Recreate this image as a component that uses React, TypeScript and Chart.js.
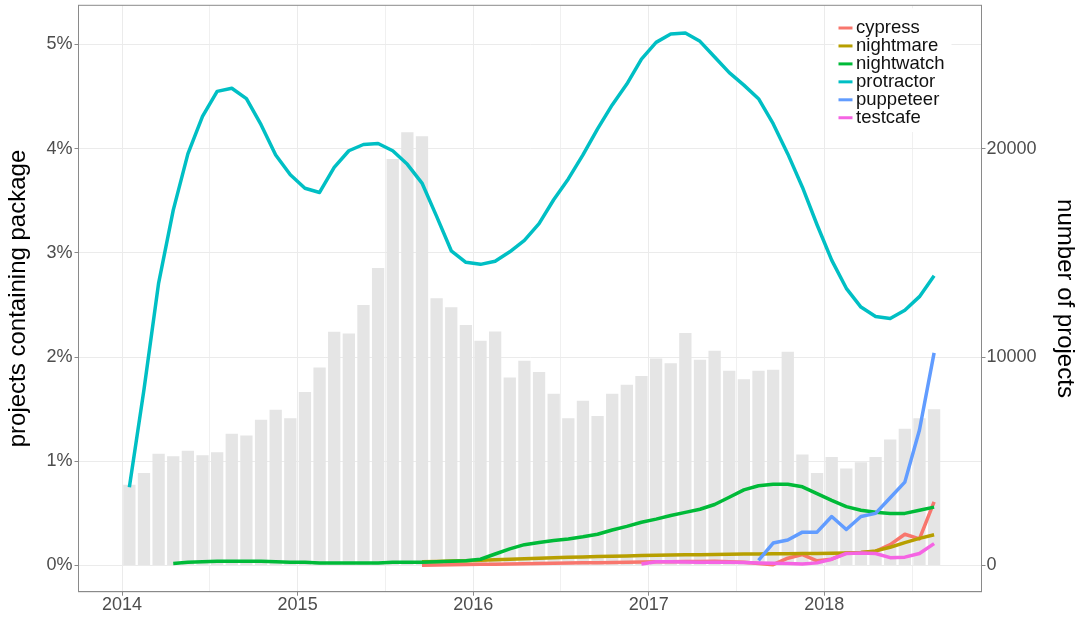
import React, { useEffect, useRef } from 'react';
import { Chart, registerables } from 'chart.js';

Chart.register(...registerables);

// ---- categories (one bar per month) ----
const months = [
  '2014-01', '2014-02', '2014-03', '2014-04', '2014-05', '2014-06', '2014-07', '2014-08', '2014-09', '2014-10', '2014-11', '2014-12',
  '2015-01', '2015-02', '2015-03', '2015-04', '2015-05', '2015-06', '2015-07', '2015-08', '2015-09', '2015-10', '2015-11', '2015-12',
  '2016-01', '2016-02', '2016-03', '2016-04', '2016-05', '2016-06', '2016-07', '2016-08', '2016-09', '2016-10', '2016-11', '2016-12',
  '2017-01', '2017-02', '2017-03', '2017-04', '2017-05', '2017-06', '2017-07', '2017-08', '2017-09', '2017-10', '2017-11', '2017-12',
  '2018-01', '2018-02', '2018-03', '2018-04', '2018-05', '2018-06', '2018-07', '2018-08',
];

// ---- number of projects per month (right axis) ----
const projectCounts = [
  3870, 4440, 5360, 5240, 5510, 5290, 5430, 6320, 6240, 6990, 7470, 7070,
  8320, 9500, 11210, 11130, 12500, 14270, 19510, 20790, 20600, 12820, 12390, 11540,
  10780, 11230, 9020, 9820, 9280, 8240, 7060, 7900, 7170, 8240, 8670, 9090,
  9930, 9710, 11150, 9870, 10300, 9340, 8940, 9340, 9390, 10250, 5320, 4440,
  5210, 4650, 4950, 5210, 6040, 6560, 7060, 7500,
];

// ---- share of projects containing each package (left axis, %) ----
const cypressStart = '2015-09';
const cypress = [
  0.003, 0.005, 0.007, 0.009, 0.011, 0.013, 0.015, 0.017, 0.02, 0.022, 0.024, 0.026,
  0.027, 0.029, 0.031, 0.033, 0.035, 0.037, 0.038, 0.039, 0.04, 0.037, 0.03, 0.018,
  0.008, 0.07, 0.105, 0.045, 0.06, 0.12, 0.125, 0.135, 0.2, 0.3, 0.255, 0.61,
];

const nightmareStart = '2015-09';
const nightmare = [
  0.035, 0.038, 0.042, 0.046, 0.05, 0.055, 0.06, 0.065, 0.07, 0.074, 0.078, 0.082,
  0.086, 0.089, 0.092, 0.095, 0.098, 0.1, 0.102, 0.104, 0.106, 0.108, 0.11, 0.111,
  0.112, 0.113, 0.114, 0.115, 0.117, 0.12, 0.125, 0.14, 0.175, 0.22, 0.26, 0.295,
];

const nightwatchStart = '2014-04';
const nightwatch = [
  0.02, 0.03, 0.035, 0.04, 0.04, 0.04, 0.04, 0.035, 0.03, 0.03, 0.025, 0.025,
  0.025, 0.025, 0.025, 0.03, 0.03, 0.03, 0.035, 0.04, 0.045, 0.06, 0.11, 0.16,
  0.2, 0.22, 0.24, 0.255, 0.275, 0.3, 0.34, 0.375, 0.415, 0.445, 0.48, 0.51,
  0.54, 0.585, 0.655, 0.725, 0.765, 0.78, 0.78, 0.755, 0.69, 0.625, 0.565, 0.53,
  0.51, 0.5, 0.5, 0.53, 0.56,
];

const protractorStart = '2014-01';
const protractor = [
  0.75, 1.69, 2.71, 3.41, 3.95, 4.31, 4.55, 4.58, 4.48, 4.23, 3.94, 3.75,
  3.62, 3.58, 3.82, 3.98, 4.04, 4.05, 3.98, 3.85, 3.67, 3.35, 3.02, 2.91,
  2.89, 2.92, 3.01, 3.12, 3.28, 3.51, 3.71, 3.94, 4.19, 4.42, 4.62, 4.86,
  5.02, 5.1, 5.11, 5.03, 4.88, 4.73, 4.61, 4.48, 4.24, 3.95, 3.63, 3.27,
  2.93, 2.66, 2.48, 2.39, 2.37, 2.45, 2.58, 2.78,
];

const puppeteerStart = '2017-08';
const puppeteer = [0.05, 0.215, 0.245, 0.32, 0.32, 0.47, 0.345, 0.47, 0.5, 0.65, 0.8, 1.3, 2.04];

const testcafeStart = '2016-12';
const testcafe = [
  0.015, 0.035, 0.035, 0.033, 0.032, 0.03, 0.03, 0.028, 0.025, 0.022, 0.018, 0.015,
  0.025, 0.06, 0.115, 0.12, 0.115, 0.075, 0.08, 0.115, 0.21,
];

// ---- axis tick labels ----
const yearTicks = [2014, 2015, 2016, 2017, 2018];
const halfYearGrid = [2014.5, 2015.5, 2016.5, 2017.5, 2018.5];
const percentTicks = [0, 1, 2, 3, 4, 5];
const projectTicks = [0, 10000, 20000];

const FONT = '"Liberation Sans", Arial, Helvetica, sans-serif';
const AXIS_GREY = '#8A8A8A';
const GRID = '#EBEBEB';

const toX = (m: string) => {
  const [y, mo] = m.split('-').map(Number);
  return y + (mo - 0.5) / 12;
};

const seriesPoints = (start: string, values: number[]) => {
  const s = months.indexOf(start);
  return values.map((v, k) => ({ x: toX(months[s + k]), y: v }));
};

const packages = [
  { label: 'cypress', start: cypressStart, values: cypress, color: '#F8766D', order: 6 },
  { label: 'nightmare', start: nightmareStart, values: nightmare, color: '#B79F00', order: 5 },
  { label: 'nightwatch', start: nightwatchStart, values: nightwatch, color: '#00BA38', order: 4 },
  { label: 'protractor', start: protractorStart, values: protractor, color: '#00BFC4', order: 3 },
  { label: 'puppeteer', start: puppeteerStart, values: puppeteer, color: '#619CFF', order: 2 },
  { label: 'testcafe', start: testcafeStart, values: testcafe, color: '#F564E3', order: 1 },
];

const zeroPad = (s: any) => {
  s.paddingTop = 0;
  s.paddingBottom = 0;
  s.paddingLeft = 0;
  s.paddingRight = 0;
};

const panelBorder = {
  id: 'panelBorder',
  afterDatasetsDraw(chart: any) {
    const { ctx, chartArea: a } = chart;
    ctx.save();
    ctx.strokeStyle = AXIS_GREY;
    ctx.lineWidth = 1;
    ctx.strokeRect(a.left, a.top, a.right - a.left, a.bottom - a.top);
    ctx.restore();
  },
};

const insideLegend = {
  id: 'insideLegend',
  afterDraw(chart: any) {
    const { ctx, chartArea: a } = chart;
    const items = chart.data.datasets.filter((d: any) => d.type === 'line');
    const x0 = a.right - 147;
    const rowH = 17.95;
    const firstY = a.top + 22.7;
    ctx.save();
    ctx.fillStyle = '#FFFFFF';
    ctx.fillRect(x0, a.top + 3, 117, rowH * items.length + 16);
    ctx.font = `18.5px ${FONT}`;
    ctx.textBaseline = 'middle';
    ctx.textAlign = 'left';
    items.forEach((d: any, k: number) => {
      const y = firstY + k * rowH;
      ctx.strokeStyle = d.borderColor;
      ctx.lineWidth = 3;
      ctx.beginPath();
      ctx.moveTo(x0 + 4, y);
      ctx.lineTo(x0 + 18, y);
      ctx.stroke();
      ctx.fillStyle = '#111111';
      ctx.fillText(d.label, x0 + 21.5, y);
    });
    ctx.restore();
  },
};

export default function App() {
  const ref = useRef<HTMLCanvasElement>(null);

  useEffect(() => {
    if (!ref.current) return;
    Chart.defaults.font.family = FONT;

    const datasets: any[] = [
      {
        type: 'bar',
        label: 'number of projects',
        data: months.map((m, i) => ({ x: toX(m), y: projectCounts[i] })),
        backgroundColor: '#E5E5E5',
        borderWidth: 0,
        barPercentage: 0.84,
        categoryPercentage: 1,
        xAxisID: 'x',
        yAxisID: 'y2',
        order: 10,
      },
      ...packages.map((p) => ({
        type: 'line',
        label: p.label,
        data: seriesPoints(p.start, p.values),
        borderColor: p.color,
        backgroundColor: p.color,
        borderWidth: 3.5,
        pointRadius: 0,
        tension: 0,
        borderJoinStyle: 'round',
        fill: false,
        xAxisID: 'x',
        yAxisID: 'y',
        order: p.order,
      })),
    ];

    const tickFont = { family: FONT, size: 18 };
    const titleFont = { family: FONT, size: 24 };

    const chart = new Chart(ref.current, {
      type: 'bar',
      data: { datasets },
      plugins: [panelBorder, insideLegend],
      options: {
        responsive: false,
        animation: false,
        events: [],
        layout: { padding: { top: 5.3, left: 0, right: 0, bottom: 0 } },
        plugins: { legend: { display: false }, tooltip: { enabled: false } },
        scales: {
          x: {
            type: 'linear',
            position: 'bottom',
            min: 2013.752,
            max: 2018.895,
            offset: false,
            afterBuildTicks: (s: any) => {
              s.ticks = [...yearTicks, ...halfYearGrid].sort((a, b) => a - b).map((v) => ({ value: v }));
            },
            afterFit: (s: any) => {
              s.height = 25.3;
              zeroPad(s);
            },
            ticks: {
              autoSkip: false,
              maxRotation: 0,
              padding: -1,
              font: tickFont,
              color: '#4D4D4D',
              callback: (v: any) => (yearTicks.includes(Number(v)) ? String(v) : ''),
            },
            grid: {
              offset: false,
              color: (c: any) => (yearTicks.includes(c.tick?.value) ? GRID : '#F0F0F0'),
              lineWidth: 1,
              tickLength: 4,
              tickColor: (c: any) => (yearTicks.includes(c.tick?.value) ? AXIS_GREY : 'rgba(0,0,0,0)'),
            },
            border: { display: true, color: AXIS_GREY, width: 1 },
          },
          y: {
            type: 'linear',
            position: 'left',
            min: -0.2516,
            max: 5.376,
            afterBuildTicks: (s: any) => {
              s.ticks = percentTicks.map((v) => ({ value: v }));
            },
            afterFit: (s: any) => {
              s.width = 78.5;
              zeroPad(s);
            },
            ticks: {
              padding: 2,
              font: tickFont,
              color: '#4D4D4D',
              callback: (v: any) => `${v}%`,
            },
            grid: { color: GRID, lineWidth: 1, tickLength: 4, tickColor: AXIS_GREY },
            border: { display: true, color: AXIS_GREY, width: 1 },
            title: {
              display: true,
              text: 'projects containing package',
              font: titleFont,
              color: '#000000',
              padding: { top: 4, bottom: 0 },
            },
          },
          y2: {
            type: 'linear',
            position: 'right',
            min: -1258,
            max: 26880,
            afterBuildTicks: (s: any) => {
              s.ticks = projectTicks.map((v) => ({ value: v }));
            },
            afterFit: (s: any) => {
              s.width = 98.5;
              zeroPad(s);
            },
            ticks: {
              padding: 1,
              font: tickFont,
              color: '#4D4D4D',
              callback: (v: any) => String(v),
            },
            grid: { drawOnChartArea: false, tickLength: 4, tickColor: AXIS_GREY },
            border: { display: true, color: AXIS_GREY, width: 1 },
            title: {
              display: true,
              text: 'number of projects',
              font: titleFont,
              color: '#000000',
              padding: { top: 1, bottom: 0 },
            },
          },
        },
      } as any,
    });

    return () => chart.destroy();
  }, []);

  return (
    <div style={{ position: 'fixed', left: 0, top: 0, width: 1080, height: 617, background: '#FFFFFF' }}>
      <canvas ref={ref} width={1080} height={617} style={{ display: 'block' }} />
    </div>
  );
}
